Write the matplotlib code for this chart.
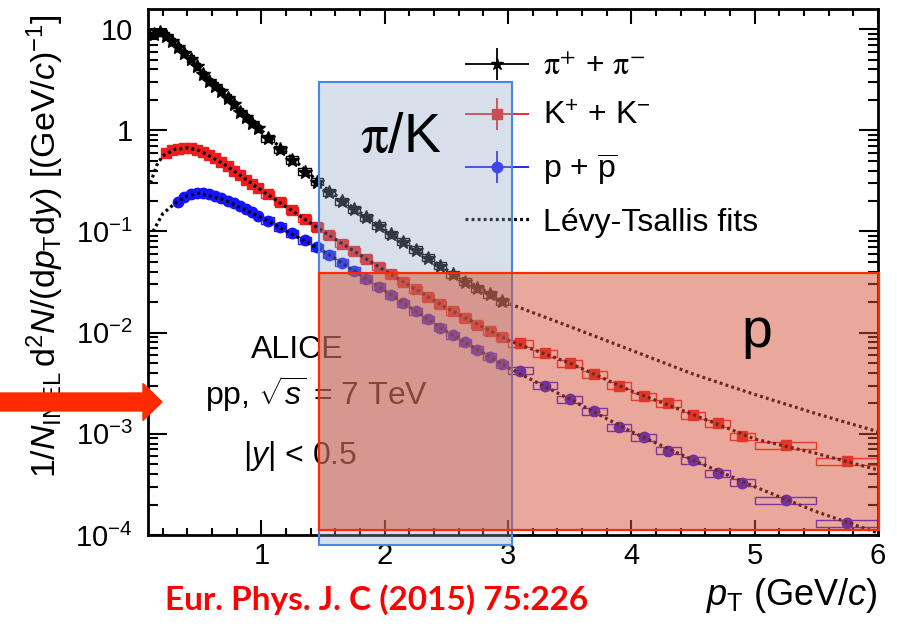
import numpy as np
import matplotlib
matplotlib.use('Agg')
import matplotlib.pyplot as plt
from matplotlib.patches import Rectangle, FancyArrow
from matplotlib.container import ErrorbarContainer
from matplotlib.legend_handler import HandlerErrorbar
from matplotlib.ticker import FixedLocator, FuncFormatter, NullFormatter

plt.rcParams['font.family'] = ['Liberation Sans', 'DejaVu Sans']
plt.rcParams['mathtext.fontset'] = 'custom'
plt.rcParams['mathtext.rm'] = 'Liberation Sans'
plt.rcParams['mathtext.it'] = 'Liberation Sans:italic'
plt.rcParams['mathtext.bf'] = 'Liberation Sans:bold'
plt.rcParams['mathtext.sf'] = 'Liberation Sans'

# bin edges (GeV/c), shared by the three species
edges = [0.10, 0.15, 0.20, 0.25, 0.30, 0.35, 0.40, 0.45, 0.50, 0.55, 0.60, 0.65,
         0.70, 0.75, 0.80, 0.85, 0.90, 0.95, 1.00,
         1.1, 1.2, 1.3, 1.4, 1.5, 1.6, 1.7, 1.8, 1.9, 2.0,
         2.1, 2.2, 2.3, 2.4, 2.5, 2.6, 2.7, 2.8, 2.9, 3.0,
         3.2, 3.4, 3.6, 3.8, 4.0, 4.2, 4.4, 4.6, 4.8, 5.0, 5.5, 6.0]
pion_edges = edges[0:39]
kaon_edges = edges[2:]
proton_edges = edges[4:]

# spectra
pion_y = [9.0, 9.3, 8.6, 7.6, 6.6, 5.8, 5.1, 4.3, 3.6, 3.05, 2.75, 2.42, 2.1, 1.8,
          1.53, 1.35, 1.18, 1.05,
          0.83, 0.65, 0.51, 0.39, 0.31, 0.245, 0.20, 0.165, 0.138, 0.114,
          0.094, 0.079, 0.066, 0.055, 0.046, 0.038, 0.032, 0.0275, 0.024, 0.0205]
kaon_y = [0.59, 0.635, 0.66, 0.67, 0.665, 0.645, 0.615, 0.575, 0.53, 0.485, 0.44,
          0.40, 0.36, 0.325, 0.295, 0.268,
          0.235, 0.197, 0.163, 0.134, 0.111, 0.092, 0.076, 0.064, 0.054, 0.045,
          0.038, 0.032, 0.027, 0.0225, 0.019, 0.0163, 0.014, 0.012, 0.0104, 0.009,
          7.9e-3, 6.3e-3, 5.0e-3, 3.9e-3, 3.0e-3, 2.35e-3, 2.0e-3, 1.53e-3, 1.28e-3,
          9.5e-4, 7.7e-4, 5.4e-4]
proton_y = [0.195, 0.218, 0.232, 0.238, 0.238, 0.232, 0.224, 0.214, 0.202, 0.19,
            0.178, 0.167, 0.155, 0.143,
            0.128, 0.111, 0.096, 0.082, 0.070, 0.059, 0.049, 0.041, 0.034, 0.0285,
            0.0235, 0.0195, 0.0162, 0.0135, 0.0112, 0.0095, 0.008, 0.0068, 0.0058, 0.0049,
            4.2e-3, 3.0e-3, 2.2e-3, 1.68e-3, 1.17e-3, 9.3e-4, 6.8e-4, 5.5e-4, 4.1e-4,
            3.3e-4, 2.2e-4, 1.3e-4]
sys_rel = 0.08

# Levy-Tsallis fit curves, read at a few points
pion_fit_x = [0.1, 0.15, 0.2, 0.3, 0.4, 0.5, 0.7, 1.0, 1.5, 2.0, 2.5, 3.0, 3.5, 4.0,
              4.5, 5.0, 5.5, 6.0]
pion_fit_y = [8.6, 9.2, 9.0, 7.1, 5.4, 3.95, 2.25, 1.0, 0.28, 0.104, 0.042, 0.0195,
              0.0115, 6.7e-3, 3.9e-3, 2.45e-3, 1.58e-3, 1.05e-3]
kaon_fit_x = [0.1, 0.15, 0.2, 0.3, 0.4, 0.5, 0.7, 1.0, 1.5, 2.0, 2.5, 3.0, 3.5, 4.0,
              4.5, 5.0, 5.5, 6.0]
kaon_fit_y = [0.30, 0.45, 0.56, 0.65, 0.67, 0.63, 0.46, 0.255, 0.10, 0.041, 0.0176,
              8.4e-3, 5.0e-3, 2.65e-3, 1.55e-3, 8.9e-4, 6.4e-4, 4.4e-4]
proton_fit_x = [0.12, 0.2, 0.3, 0.4, 0.5, 0.7, 1.0, 1.5, 2.0, 2.5, 3.0, 3.5, 4.0,
                4.5, 5.0, 5.5, 6.0]
proton_fit_y = [0.10, 0.15, 0.19, 0.225, 0.238, 0.205, 0.137, 0.064, 0.026, 0.0103,
                4.5e-3, 2.2e-3, 1.05e-3, 5.5e-4, 3.0e-4, 1.7e-4, 1.05e-4]

# highlighted regions (data coordinates)
piK_box = (1.468, 3.03, 7.96e-5, 2.99)
p_box = (1.468, 6.01, 1.12e-4, 0.0388)

fig = plt.figure(figsize=(8.97, 6.27), dpi=100)
ax = fig.add_axes([148/897, 1-535/627, 730/897, 526/627])
ax.set_yscale('log')
ax.set_xlim(0.08, 6.0)
ax.set_ylim(1e-4, 15.8)

species = [
    (pion_edges, pion_y, 'black', '*', 10, 'black'),
    (kaon_edges, kaon_y, '#ee1c1c', 's', 7, '#ff2020'),
    (proton_edges, proton_y, '#1414ff', 'o', 7.5, '#2a1aff'),
]
for ed, yv, col, mk, ms, boxcol in species:
    ed = np.array(ed)
    yv = np.array(yv)
    xc = 0.5 * (ed[1:] + ed[:-1])
    bw = ed[1:] - ed[:-1]
    ax.bar(xc, 2 * sys_rel * yv, bottom=yv * (1 - sys_rel), width=bw, fill=False,
           edgecolor=boxcol, linewidth=1.0, zorder=2)
    ax.plot(xc, yv, ls='none', marker=mk, ms=ms, color=col, mec=col, zorder=3)

for fx, fy in [(pion_fit_x, pion_fit_y), (kaon_fit_x, kaon_fit_y),
               (proton_fit_x, proton_fit_y)]:
    ax.plot(fx, fy, color='black', lw=2.3, ls=(0, (0.9, 1.0)), zorder=4)

# legend
h_pi = ax.errorbar([np.nan], [np.nan], xerr=[1], yerr=[1], fmt='*', color='black',
                   ms=9, elinewidth=1.3)
h_k = ax.errorbar([np.nan], [np.nan], xerr=[1], yerr=[1], fmt='s', color='#ee1c1c',
                  ms=7, elinewidth=1.3)
h_p = ax.errorbar([np.nan], [np.nan], xerr=[1], yerr=[1], fmt='o', color='#1414ff',
                  ms=7.5, elinewidth=1.3)
h_fit, = ax.plot([np.nan], [np.nan], color='black', lw=2.3, ls=(0, (0.9, 1.0)))
leg = ax.legend([h_pi, h_k, h_p, h_fit],
                [r'$\mathrm{\pi}^{+}$ + $\mathrm{\pi}^{-}$', r'K$^{+}$ + K$^{-}$',
                 r'p + $\overline{\mathrm{p}}$', 'Lévy-Tsallis fits'],
                loc='upper left', bbox_to_anchor=((465-148)/730, (535-52)/526),
                frameon=False, fontsize=23, handlelength=2.0, handletextpad=0.45,
                borderpad=0, borderaxespad=0, labelspacing=0.62,
                handler_map={ErrorbarContainer: HandlerErrorbar(xerr_size=1.0,
                                                               yerr_size=0.5)})
leg.get_texts()[0].set_math_fontfamily('stix')
leg.set_zorder(5)

# text
ax.text(1.29, 6.7e-3, 'ALICE', fontsize=23, ha='center', va='center', zorder=3)
ax.text(1.45, 2.5e-3, r'pp, $\sqrt{s}$ = 7 TeV', fontsize=23, ha='center',
        va='center', zorder=3)
ax.text(1.31, 6.0e-4, r'$|y|$ < 0.5', fontsize=23, ha='center', va='center', zorder=3)
ax.text(2.13, 0.84, r'$\mathrm{\pi}$/K', fontsize=40, ha='center', va='center',
        math_fontfamily='stix', zorder=8)
ax.text(5.02, 1.0e-2, 'p', fontsize=40, ha='center', va='center', zorder=8)

# overlays
x0, x1, y0, y1 = piK_box
ax.add_patch(Rectangle((x0, y0), x1 - x0, y1 - y0, facecolor=(0.56, 0.66, 0.77, 0.35),
                       edgecolor='#4a86e8', lw=1.5, clip_on=False, zorder=6))
x0, x1, y0, y1 = p_box
ax.add_patch(Rectangle((x0, y0), x1 - x0, y1 - y0, facecolor=(0.835, 0.32, 0.22, 0.5),
                       edgecolor='#ff2a00', lw=1.6, clip_on=False, zorder=7))

# axes style
for s in ax.spines.values():
    s.set_linewidth(2)
ax.xaxis.set_major_locator(FixedLocator([1, 2, 3, 4, 5, 6]))
ax.xaxis.set_minor_locator(FixedLocator(np.round(np.arange(0.2, 6.0, 0.2), 1)))
ax.yaxis.set_major_locator(FixedLocator([1e-4, 1e-3, 1e-2, 1e-1, 1, 10]))
ax.yaxis.set_minor_locator(matplotlib.ticker.LogLocator(base=10, subs=np.arange(2, 10)))
ax.yaxis.set_minor_formatter(NullFormatter())


def ylab(v, pos):
    e = int(round(np.log10(v)))
    if e == 0:
        return '1'
    if e == 1:
        return '10'
    return r'$10^{%d}$' % e


ax.yaxis.set_major_formatter(FuncFormatter(ylab))
ax.tick_params(which='both', direction='in', top=True, right=True, width=1.5,
               labelsize=21)
ax.tick_params(axis='y', which='major', length=14, pad=11)
ax.tick_params(axis='y', which='minor', length=7)
ax.tick_params(axis='x', which='major', length=11, pad=5)
ax.tick_params(axis='x', which='minor', length=5)

ax.set_ylabel(r'$1/N_{\mathrm{INEL}}\,\mathrm{d}^{2}N/(\mathrm{d}p_{\mathrm{T}}\mathrm{d}y)$'
              r' [(GeV/$c$)$^{-1}$]', fontsize=24.5)
ax.yaxis.set_label_coords(-0.112, 0.55)
ax.set_xlabel(r'$p_{\mathrm{T}}$ (GeV/$c$)', fontsize=26, loc='right')
ax.xaxis.set_label_coords(1.0, -0.078)

fig.text(165/897, 1 - 600/627, 'Eur. Phys. J. C (2015) 75:226', color='#ff0000',
         fontsize=24, fontweight='bold', family=['Lato', 'DejaVu Sans'],
         ha='left', va='center')

fig.add_artist(FancyArrow(0, 1 - 402/627, 162/897, 0, width=18/627, head_width=37/627,
                          head_length=19/897, length_includes_head=True,
                          color='#ff2a00', transform=fig.transFigure))

fig.savefig('out.png', dpi=100)
